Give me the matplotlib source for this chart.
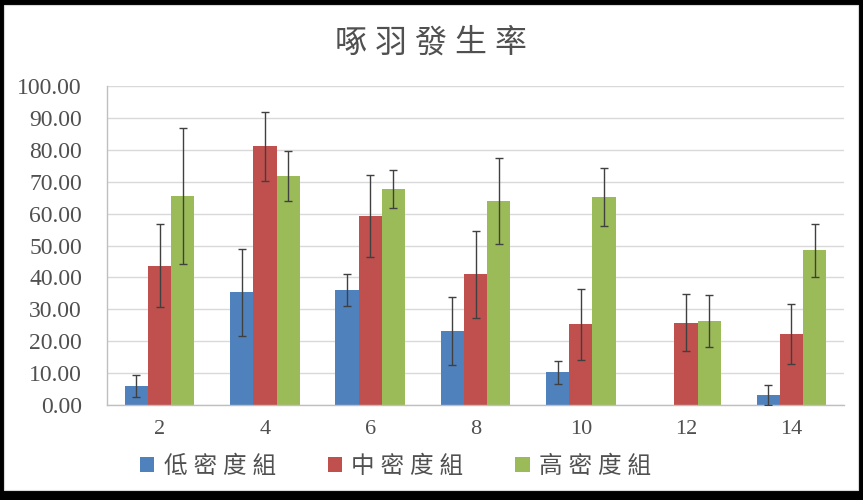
import matplotlib
matplotlib.use("Agg")
import matplotlib.pyplot as plt
from matplotlib.patches import Rectangle, Patch
import numpy as np

weeks = ["2", "4", "6", "8", "10", "12", "14"]
low = [6.0, 35.3, 36.1, 23.2, 10.3, 0.0, 3.1]
low_err = [3.5, 13.6, 5.1, 10.7, 3.6, 0.0, 3.1]
mid = [43.7, 81.1, 59.2, 41.0, 25.3, 25.8, 22.3]
mid_err = [13.0, 10.9, 12.9, 13.6, 11.2, 8.9, 9.3]
high = [65.5, 71.7, 67.7, 63.9, 65.2, 26.3, 48.5]
high_err = [21.3, 7.8, 6.0, 13.4, 9.1, 8.2, 8.3]
labels = ["低 密 度 組", "中 密 度 組", "高 密 度 組"]
colors = ["#4F81BD", "#C0504D", "#9BBB59"]
yticks = np.arange(0, 101, 10)

plt.rcParams['font.family'] = ['Liberation Serif', 'Noto Sans CJK TC']
txt = "#505050"

W, H = 863, 500
fig = plt.figure(figsize=(W / 100, H / 100), dpi=100, facecolor="black")
fig.patches.append(Rectangle((4 / W, 1 - 490 / H), 854 / W, 485 / H,
                             transform=fig.transFigure, facecolor="white",
                             edgecolor="#D9D9D9", lw=0.8, zorder=-10))

ax = fig.add_axes([107 / W, 1 - 405 / H, (844 - 107) / W, (405 - 86) / H])
ax.set_facecolor("white")

x = np.arange(len(weeks))
bw = 0.22
series = [(low, low_err), (mid, mid_err), (high, high_err)]
for i, (vals, errs) in enumerate(series):
    pos = x + (i - 1) * bw
    ax.bar(pos, vals, width=bw, color=colors[i], zorder=2)
    v = np.array(vals)
    e = np.array(errs)
    mask = v > 0
    ax.errorbar(pos[mask], v[mask], yerr=e[mask], fmt="none",
                ecolor="#404040", elinewidth=1, capsize=3, capthick=1,
                zorder=3)

ax.set_xlim(-0.5, len(weeks) - 0.5)
ax.set_ylim(0, 100)
ax.set_yticks(yticks)
ax.set_yticklabels([f"{t:.2f}" for t in yticks], fontsize=17, color=txt)
ax.set_xticks(x)
ax.set_xticklabels(weeks, fontsize=16, color=txt)
ax.tick_params(axis="y", length=0, pad=18)
ax.tick_params(axis="x", length=0, pad=11)
ax.grid(axis="y", color="#D9D9D9", lw=1, zorder=0)
ax.set_axisbelow(True)
for s in ["top", "right"]:
    ax.spines[s].set_visible(False)
for s in ["left", "bottom"]:
    ax.spines[s].set_color("#BFBFBF")
    ax.spines[s].set_linewidth(1)

fig.text(431 / W, 1 - 43 / H, "啄 羽 發 生 率", ha="center", va="center",
         fontsize=23, color=txt)

handles = [Patch(facecolor=c) for c in colors]
fig.legend(handles, labels, loc="center left",
           bbox_to_anchor=(140 / W, 1 - 467 / H), ncol=3, frameon=False,
           fontsize=17, handlelength=0.6, handleheight=0.6,
           handletextpad=0.4, columnspacing=2.2, labelcolor=txt,
           borderaxespad=0, borderpad=0)

fig.savefig("out.png", dpi=100, facecolor="black")
